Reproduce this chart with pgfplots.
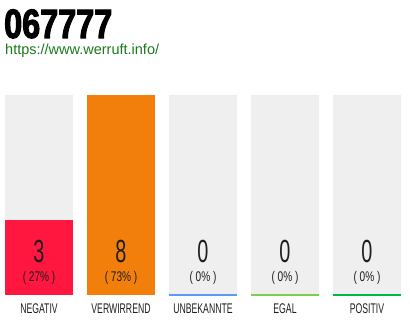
\documentclass[border=0pt]{standalone}
\usepackage{pgfplots}
\pgfplotsset{compat=1.18}
\usepackage{fontspec}
\setmainfont{Liberation Sans}
\newfontfamily\titlefont[FakeStretch=0.79,FakeBold=2.5]{Liberation Sans Bold}
\newfontfamily\condfont[FakeStretch=0.62]{Liberation Sans}
\newfontfamily\pctfont[FakeStretch=0.72]{Liberation Sans}

\definecolor{bgbar}{RGB}{239,239,239}
\definecolor{negred}{RGB}{255,23,64}
\definecolor{verorange}{RGB}{242,127,12}
\definecolor{unkblue}{RGB}{90,156,245}
\definecolor{egalgreen}{RGB}{124,204,80}
\definecolor{posgreen}{RGB}{0,184,74}
\definecolor{urlgreen}{RGB}{26,122,26}
\definecolor{txt}{RGB}{30,30,30}

\tikzset{
  cnt/.style={anchor=base, inner sep=0pt, text=txt, font=\condfont\fontsize{32}{32}\selectfont},
  pct/.style={anchor=base, inner sep=0pt, text=txt, font=\pctfont\fontsize{14}{14}\selectfont},
}

\begin{document}
\begin{tikzpicture}
\path[use as bounding box] (0pt,0pt) rectangle (410pt,320pt);

% heading
\node[anchor=base west, inner sep=0pt, text depth=0pt, font=\titlefont\fontsize{41}{41}\selectfont, text=black] at (4pt,282pt) {067777};
\node[anchor=base west, inner sep=0pt, font=\fontsize{14.5}{15}\selectfont, text=urlgreen] at (5pt,265pt) {https://www.werruft.info/};

\begin{axis}[
  at={(5pt,25pt)}, anchor=south west,
  scale only axis, width=396pt, height=200pt,
  xmin=5, xmax=401, ymin=0, ymax=8,
  axis line style={draw=none},
  tick style={draw=none},
  ytick=\empty,
  xtick={39,121,203,285,367},
  xticklabels={NEGATIV,VERWIRREND,UNBEKANNTE,EGAL,POSITIV},
  xticklabel style={font=\condfont\fontsize{14}{14}\selectfont, text=txt, anchor=north, inner sep=0pt, yshift=-9pt},
  clip=false,
]
% grey background columns (full scale)
\addplot[ybar, bar width=68, bar shift=0, fill=bgbar, draw=none]
  coordinates {(39,8) (121,8) (203,8) (285,8) (367,8)};
% answer counts
\addplot[ybar, bar width=68, bar shift=0, fill=negred, draw=none]
  coordinates {(39,3)};
\addplot[ybar, bar width=68, bar shift=0, fill=verorange, draw=none]
  coordinates {(121,8)};
% coloured base lines
\draw[unkblue, line width=1.5pt] (axis cs:169,0) -- (axis cs:237,0);
\draw[egalgreen, line width=1.5pt] (axis cs:251,0) -- (axis cs:319,0);
\draw[posgreen, line width=1.5pt] (axis cs:333,0) -- (axis cs:401,0);
% counts and shares
\node[cnt] at (axis cs:39,1.28) {3};
\node[pct] at (axis cs:39,0.52) {( 27\% )};
\node[cnt] at (axis cs:121,1.28) {8};
\node[pct] at (axis cs:121,0.52) {( 73\% )};
\node[cnt] at (axis cs:203,1.28) {0};
\node[pct] at (axis cs:203,0.52) {( 0\% )};
\node[cnt] at (axis cs:285,1.28) {0};
\node[pct] at (axis cs:285,0.52) {( 0\% )};
\node[cnt] at (axis cs:367,1.28) {0};
\node[pct] at (axis cs:367,0.52) {( 0\% )};
\end{axis}
\end{tikzpicture}
\end{document}
